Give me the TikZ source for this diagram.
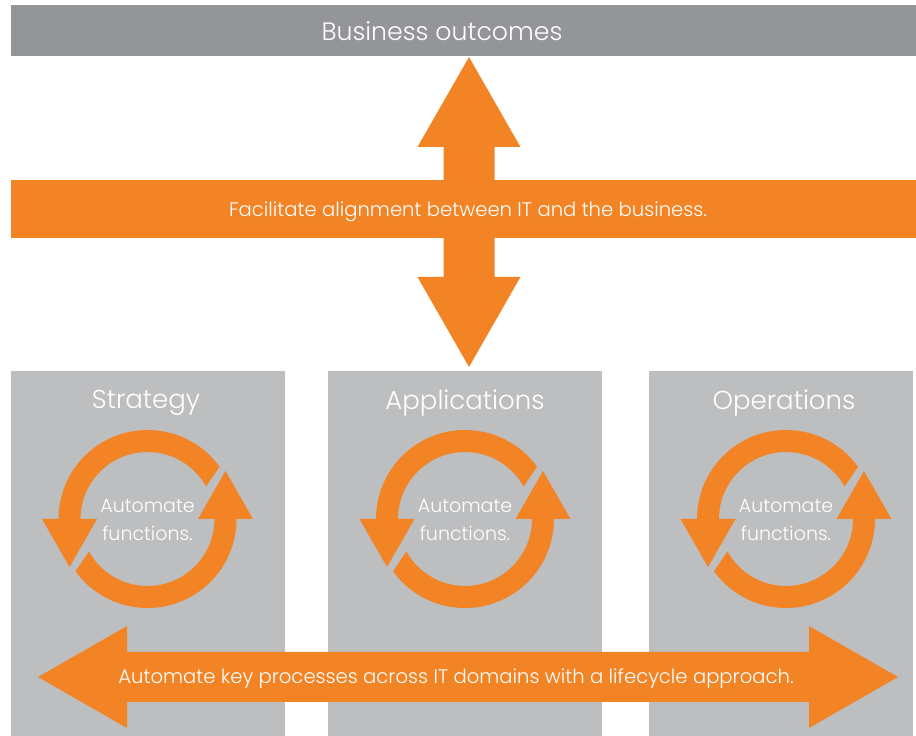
\documentclass[tikz,border=0pt]{standalone}
\usepackage{fontspec}
\setmainfont{Poppins}[UprightFont=* Light]
\usetikzlibrary{positioning}
\definecolor{hporange}{HTML}{F38426}
\definecolor{bargray}{HTML}{939598}
\definecolor{boxgray}{HTML}{BCBEC0}
\tikzset{barbox/.style={fill=bargray, draw=none},
         domainbox/.style={fill=boxgray, draw=none},
         flowfill/.style={fill=hporange, draw=none},
         headtext/.style={text=white, font=\fontsize{26}{30}\selectfont, inner sep=0pt},
         captext/.style={text=white, font=\fontsize{19.6}{23}\selectfont, inner sep=0pt, align=center}}

% one cycle of two arrows round a centre
\newcommand{\cycleat}[2]{
  \begin{scope}[shift={(#1)}]
    \foreach \a in {0,180}
      \fill[flowfill, rotate=\a] (29:67) -- (36:89) arc[start angle=36, end angle=180, radius=89]
        -- (-105.5,0) -- (-78,-48) -- (-50.5,0) -- (-67,0)
        arc[start angle=180, end angle=29, radius=67] -- cycle;
    \node (#2) [captext, font=\fontsize{19}{23}\selectfont] at (0,-1) {Automate\\[5pt]functions.};
  \end{scope}
}

\begin{document}
\begin{tikzpicture}[x=1pt, y=1pt]
        \useasboundingbox (0,0) rectangle (916,736);
        % top bar
        \fill[barbox] (11,680) rectangle (916,731);
        \node (outcomes) [headtext, font=\fontsize{25.2}{30}\selectfont] at (442,705) {Business outcomes};

        % three domains
        \fill[domainbox] (11,0) rectangle (285,365);
        \fill[domainbox] (328,0) rectangle (602,365);
        \fill[domainbox] (649,0) rectangle (913,365);
        \node (strat) [headtext] at (146,333) {Strategy};
        \node (apps) [headtext] at (465,333) {Applications};
        \node (ops) [headtext] at (784,333) {Operations};

        % vertical double arrow
        \coordinate (up) at (469,679);
        \coordinate (down) at (469,369);
        \fill[flowfill] (up) -- ++(51.5,-90) -- ++(-26,0) -- ++(0,-130) -- ++(26,0)
          -- (down) -- ++(-51.5,90) -- ++(26,0) -- ++(0,130) -- ++(-26,0) -- cycle;

        % alignment band
        \fill[flowfill] (11,498) rectangle (916,556);
        \node (align) [captext] at (468,524) {Facilitate alignment between IT and the business.};

        % cycles
        \cycleat{147.5,217}{c1}
        \cycleat{465,217}{c2}
        \cycleat{786,217}{c3}

        % bottom double arrow
        \coordinate (left) at (38,59);
        \coordinate (right) at (898,59);
        \fill[flowfill] (left) -- ++(89,51) -- ++(0,-26) -- ++(682,0) -- ++(0,26)
          -- (right) -- ++(-89,-51) -- ++(0,26) -- ++(-682,0) -- ++(0,-26) -- cycle;
        \node (across) [captext] at (456,57) {Automate key processes across IT domains with a lifecycle approach.};
\end{tikzpicture}
\end{document}
